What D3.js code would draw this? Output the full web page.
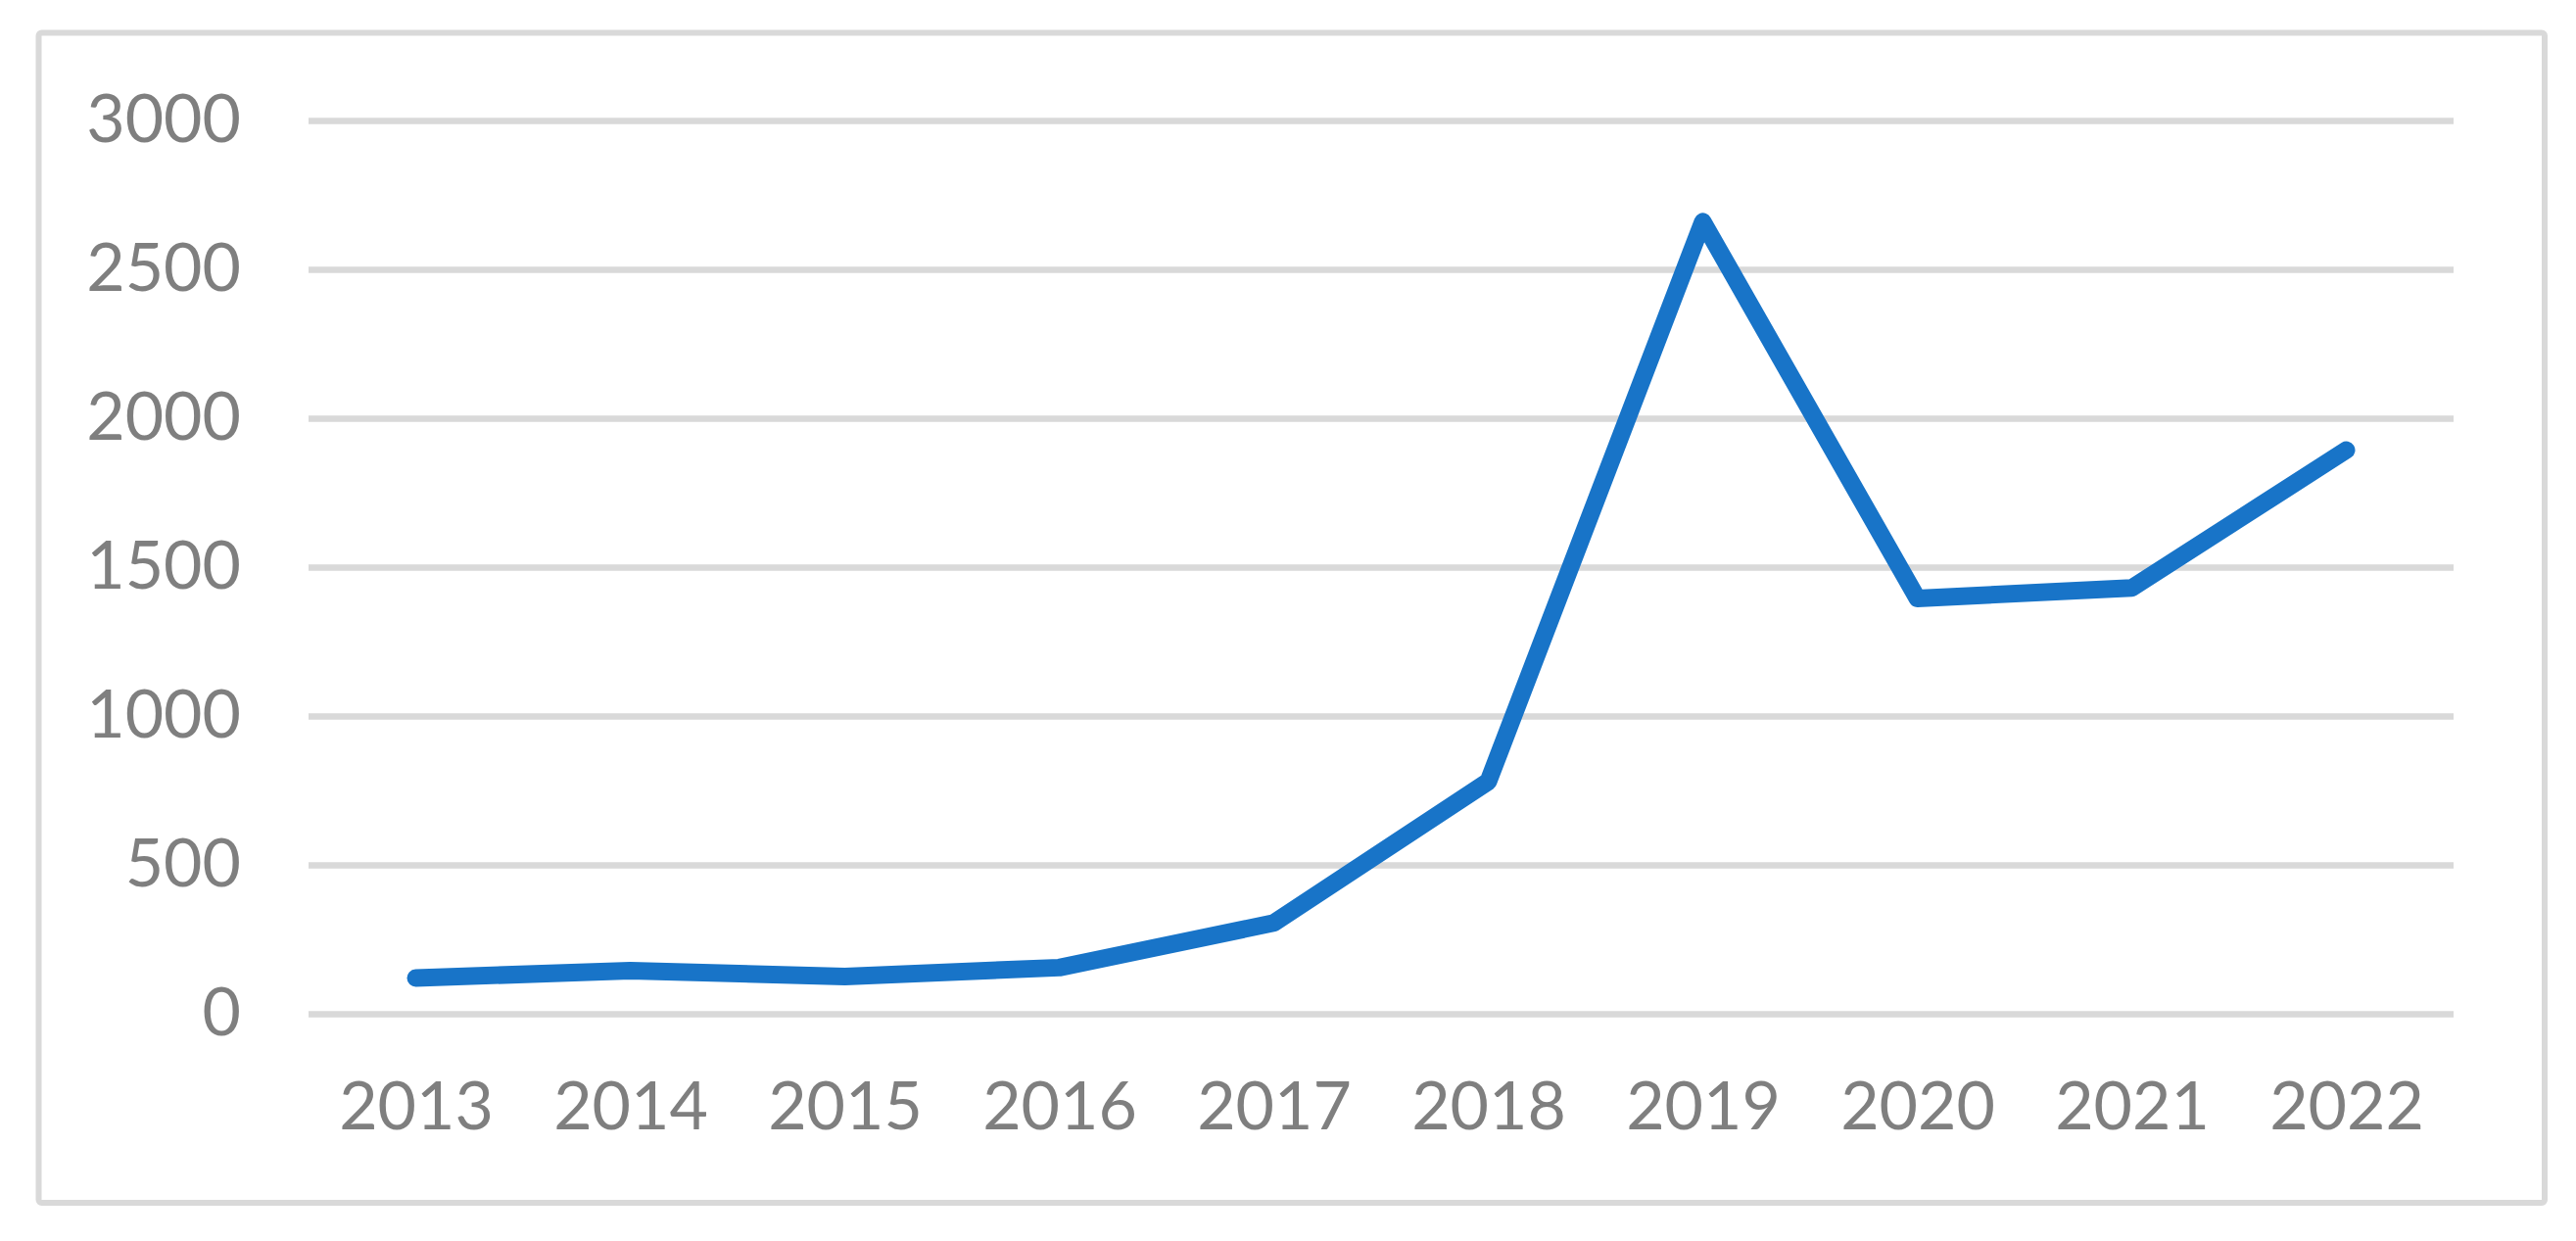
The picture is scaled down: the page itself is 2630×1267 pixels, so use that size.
<!DOCTYPE html>
<html>
<head>
<meta charset="utf-8">
<script src="https://cdn.jsdelivr.net/npm/d3@7"></script>
<style>
  body { margin: 0; background: #fff; }
</style>
</head>
<body>
<div id="chart"></div>
<script>
// data
var years = ["2013", "2014", "2015", "2016", "2017", "2018", "2019", "2020", "2021", "2022"];
var counts = [120, 145, 125, 155, 305, 780, 2660, 1395, 1430, 1893];
var yTicks = [0, 500, 1000, 1500, 2000, 2500, 3000];

var svgWidth = 2630;
var svgHeight = 1267;

var chartMargin = { top: 123, right: 125, bottom: 232, left: 315 };
var chartWidth = svgWidth - chartMargin.left - chartMargin.right;
var chartHeight = svgHeight - chartMargin.top - chartMargin.bottom;

var svg = d3.select("#chart")
  .append("svg")
  .attr("width", svgWidth)
  .attr("height", svgHeight);

// chart area border
svg.append("rect")
  .attr("x", 39.5)
  .attr("y", 33.5)
  .attr("width", 2598 - 39.5)
  .attr("height", 1228 - 33.5)
  .attr("rx", 3)
  .attr("fill", "#fff")
  .attr("stroke", "#d9d9d9")
  .attr("stroke-width", 6);

var chartGroup = svg.append("g")
  .attr("transform", `translate(${chartMargin.left}, ${chartMargin.top})`);

var xScale = d3.scalePoint()
  .domain(years)
  .range([0, chartWidth])
  .padding(0.5);

var yScale = d3.scaleLinear()
  .domain([0, 3000])
  .range([chartHeight, 0]);

// y axis with gridlines
var leftAxis = d3.axisLeft(yScale)
  .tickValues(yTicks)
  .tickFormat(d3.format("d"))
  .tickSize(-chartWidth)
  .tickPadding(69);

var yAxisG = chartGroup.append("g").call(leftAxis);
yAxisG.select(".domain").remove();
yAxisG.selectAll(".tick line")
  .attr("stroke", "#d9d9d9")
  .attr("stroke-width", 6.5);
yAxisG.selectAll(".tick text")
  .attr("fill", "#7f7f7f")
  .attr("font-family", "Lato, 'Open Sans', sans-serif")
  .attr("font-size", "68px");

// x axis
var bottomAxis = d3.axisBottom(xScale)
  .tickSize(0)
  .tickPadding(70);

var xAxisG = chartGroup.append("g")
  .attr("transform", `translate(0, ${chartHeight})`)
  .call(bottomAxis);
xAxisG.select(".domain").remove();
xAxisG.selectAll(".tick text")
  .attr("fill", "#7f7f7f")
  .attr("font-family", "Lato, 'Open Sans', sans-serif")
  .attr("font-size", "68px");

// the line
var line = d3.line()
  .x((d, i) => xScale(years[i]))
  .y(d => yScale(d));

chartGroup.append("path")
  .datum(counts)
  .attr("d", line)
  .attr("fill", "none")
  .attr("stroke", "#1874c8")
  .attr("stroke-width", 18)
  .attr("stroke-linejoin", "round")
  .attr("stroke-linecap", "round");
</script>
</body>
</html>
